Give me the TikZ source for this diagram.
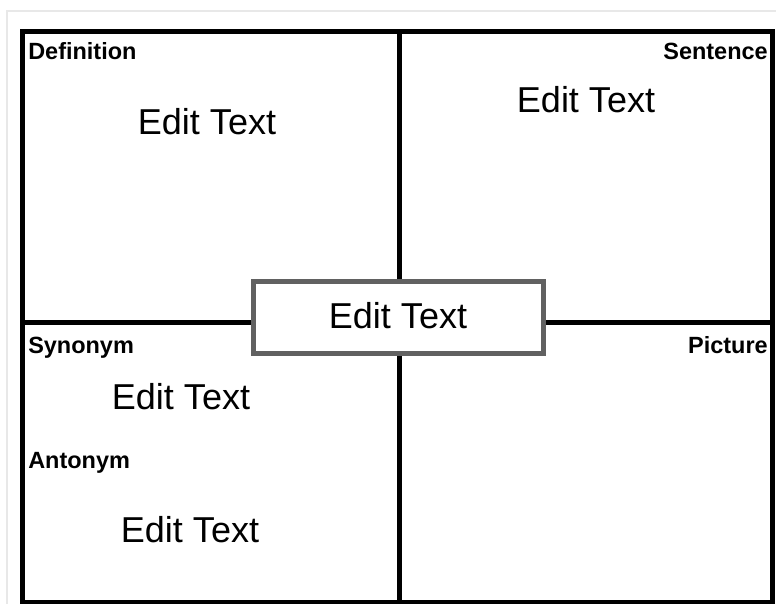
\documentclass[tikz,border=0pt]{standalone}
\usepackage{fontspec}
\setmainfont{Liberation Sans}
\usetikzlibrary{positioning}

\begin{document}
\begin{tikzpicture}[x=0.75pt, y=-0.75pt,
    tag/.style={font=\fontsize{17.6}{20}\selectfont\bfseries, inner sep=0pt},
    entry/.style={font=\fontsize{27}{31}\selectfont, inner sep=0pt}]
    \useasboundingbox (0,0) rectangle (776,604);
    \fill[white] (0,0) rectangle (776,604);
    % light outer frame
    \draw[line width=1.2pt, black!9] (7,11) rectangle (790,620);
    % the four panes
    \draw[line width=3.75pt] (22,31) rectangle (772,602);
    \draw[line width=3.75pt] (399,31) -- (399,602);
    \draw[line width=3.75pt] (22,322) -- (772,322);
    \node[rectangle, draw=black!62, line width=3.75pt, fill=white, minimum width=217.5pt, minimum height=54pt, font=\fontsize{27}{31}\selectfont] (word) at (398,317) {\raisebox{2.2pt}{Edit Text}};

    \node[tag, anchor=west] (def) at (28,51) {Definition};
    \node[tag, anchor=east] (sent) at (768,51) {Sentence};
    \node[tag, anchor=west] (syn) at (28,347.5) {Synonym};
    \node[tag, anchor=east] (pic) at (768,345) {Picture};
    \node[tag, anchor=west] (ant) at (28,462.5) {Antonym};

    \node[entry] (deftext) at (207,122) {Edit Text};
    \node[entry] (senttext) at (586,100) {Edit Text};
    \node[entry] (syntext) at (181,397) {Edit Text};
    \node[entry] (anttext) at (190,530) {Edit Text};
\end{tikzpicture}
\end{document}
